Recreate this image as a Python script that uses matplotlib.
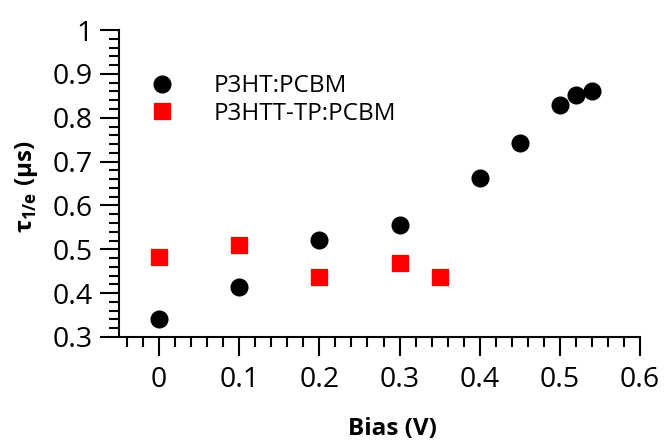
import matplotlib
matplotlib.use('Agg')
import matplotlib.pyplot as plt
from matplotlib.ticker import MultipleLocator

plt.rcParams['font.family'] = ['Open Sans', 'DejaVu Sans']
plt.rcParams['mathtext.fontset'] = 'custom'
plt.rcParams['mathtext.rm'] = 'Open Sans'
plt.rcParams['mathtext.bf'] = 'Open Sans:bold'

# data
bias_p3ht = [0.0, 0.1, 0.2, 0.3, 0.4, 0.45, 0.5, 0.52, 0.54]
tau_p3ht = [0.341, 0.415, 0.522, 0.555, 0.662, 0.743, 0.829, 0.852, 0.861]
bias_tp = [0.0, 0.1, 0.2, 0.3, 0.35]
tau_tp = [0.483, 0.509, 0.437, 0.469, 0.437]
labels = ['P3HT:PCBM', 'P3HTT-TP:PCBM']

fig = plt.figure(figsize=(6.65, 4.42), dpi=100)
ax = fig.add_axes([0.179, 0.2376, 0.7834, 0.6944])

ax.plot(bias_p3ht, tau_p3ht, 'o', color='black', markersize=12, label=labels[0])
ax.plot(bias_tp, tau_tp, 's', color='#ff0000', markersize=11, label=labels[1])

ax.set_xlim(-0.05, 0.6)
ax.set_ylim(0.3, 1.0)
ax.xaxis.set_major_locator(MultipleLocator(0.1))
ax.xaxis.set_minor_locator(MultipleLocator(0.02))
ax.yaxis.set_major_locator(MultipleLocator(0.1))
ax.yaxis.set_minor_locator(MultipleLocator(0.02))
ax.xaxis.set_major_formatter(plt.FuncFormatter(lambda v, p: '0' if abs(v) < 1e-9 else f'{v:g}'))
ax.yaxis.set_major_formatter(plt.FuncFormatter(lambda v, p: f'{v:g}'))

for s in ['top', 'right']:
    ax.spines[s].set_visible(False)
for s in ['left', 'bottom']:
    ax.spines[s].set_linewidth(1.5)

ax.tick_params(which='major', direction='out', length=14, width=1.5, labelsize=20.5)
ax.tick_params(axis='x', which='major', pad=7)
ax.tick_params(axis='y', which='major', pad=5)
ax.tick_params(which='minor', direction='out', length=7.5, width=1.5)

ax.set_xlabel('Bias (V)', fontsize=17.5, fontweight='bold')
ax.set_ylabel(r'$\mathbf{\tau}_{\mathbf{1/e}}$ (µs)', fontsize=17.5, fontweight='bold')
ax.xaxis.set_label_coords(0.525, -0.262)
ax.yaxis.set_label_coords(-0.152, 0.49)

leg = ax.legend(loc='upper left', bbox_to_anchor=(0.018, 0.888), frameon=False,
                fontsize=17.5, handletextpad=1.12, labelspacing=0.15, borderaxespad=0,
                handlelength=2.0)

plt.savefig('out.png', dpi=100)
